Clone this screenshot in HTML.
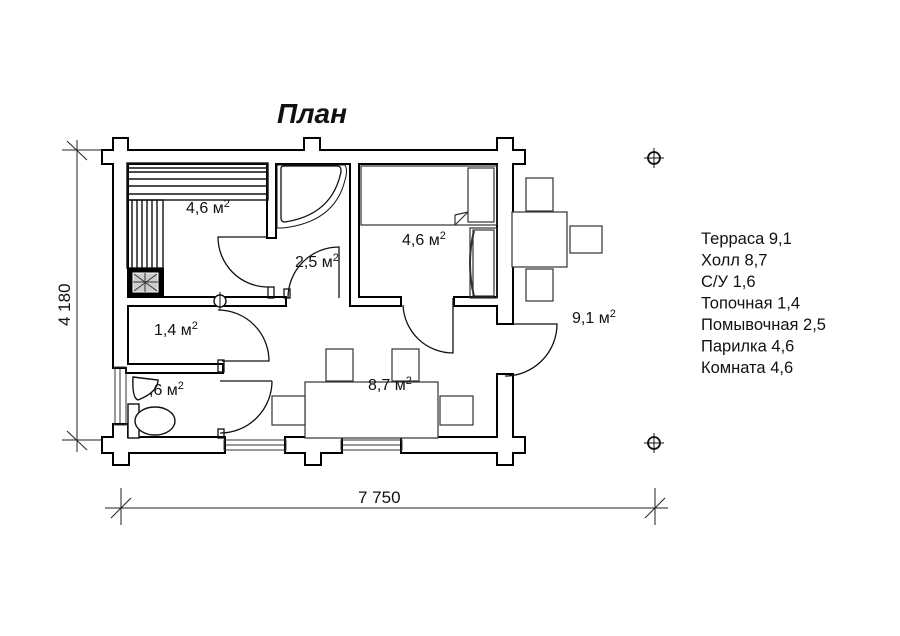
<!DOCTYPE html>
<html><head><meta charset="utf-8"><style>
html,body{margin:0;padding:0;background:#fff}
svg{display:block}
text{font-family:"Liberation Sans",sans-serif;fill:#111}
</style></head><body>
<svg width="900" height="636" viewBox="0 0 900 636" xmlns="http://www.w3.org/2000/svg">
<rect width="900" height="636" fill="#fff"/>
<text x="277" y="123" font-size="28" font-weight="bold" font-style="italic">План</text>

<g stroke="#222" stroke-width="1" fill="none">
<line x1="77" y1="140" x2="77" y2="452"/>
<line x1="62" y1="150" x2="120" y2="150"/>
<line x1="62" y1="440" x2="120" y2="440"/>
<line x1="67" y1="141" x2="87" y2="160"/>
<line x1="67" y1="431" x2="87" y2="450"/>
<line x1="105" y1="508" x2="668" y2="508"/>
<line x1="121" y1="488" x2="121" y2="525"/>
<line x1="655" y1="488" x2="655" y2="525"/>
<line x1="111" y1="518" x2="131" y2="498"/>
<line x1="645" y1="518" x2="665" y2="498"/>
</g>
<text x="0" y="0" font-size="17" transform="translate(70,326) rotate(-90)">4 180</text>
<text x="358" y="503" font-size="17">7 750</text>

<g stroke="#111" stroke-width="1.8" fill="none">
<circle cx="654" cy="158" r="6"/><line x1="644" y1="158" x2="664" y2="158" stroke-width="1"/><line x1="654" y1="148" x2="654" y2="168" stroke-width="1"/>
<circle cx="654" cy="443" r="6"/><line x1="644" y1="443" x2="664" y2="443" stroke-width="1"/><line x1="654" y1="433" x2="654" y2="453" stroke-width="1"/>
</g>

<g fill="#000">
<rect x="101" y="149" width="425" height="16"/>
<rect x="112" y="137" width="17" height="28"/>
<rect x="303" y="137" width="18" height="16"/>
<rect x="496" y="137" width="18" height="28"/>
<rect x="112" y="149" width="17" height="220"/>
<rect x="112" y="423" width="17" height="31"/>
<rect x="496" y="149" width="18" height="176"/>
<rect x="496" y="373" width="18" height="81"/>
<rect x="101" y="436" width="125" height="18"/>
<rect x="284" y="436" width="59" height="18"/>
<rect x="400" y="436" width="126" height="18"/>
<rect x="112" y="436" width="18" height="30"/>
<rect x="304" y="436" width="18" height="30"/>
<rect x="496" y="436" width="18" height="30"/>
<rect x="266" y="161" width="11" height="78"/>
<rect x="125" y="296" width="162" height="11"/>
<rect x="349" y="161" width="11" height="146"/>
<rect x="349" y="296" width="53" height="11"/>
<rect x="453" y="296" width="47" height="11"/>
<rect x="125" y="363" width="99" height="11"/>
</g>
<g fill="#fff">
<rect x="103" y="151" width="421" height="12"/>
<rect x="114" y="139" width="13" height="24"/>
<rect x="305" y="139" width="14" height="24"/>
<rect x="498" y="139" width="14" height="24"/>
<rect x="114" y="151" width="13" height="216"/>
<rect x="114" y="425" width="13" height="27"/>
<rect x="498" y="151" width="14" height="172"/>
<rect x="498" y="375" width="14" height="77"/>
<rect x="103" y="438" width="121" height="14"/>
<rect x="286" y="438" width="55" height="14"/>
<rect x="402" y="438" width="122" height="14"/>
<rect x="114" y="438" width="14" height="26"/>
<rect x="306" y="438" width="14" height="26"/>
<rect x="498" y="438" width="14" height="26"/>
<rect x="268" y="163" width="7" height="74"/>
<rect x="127" y="298" width="158" height="7"/>
<rect x="351" y="163" width="7" height="142"/>
<rect x="351" y="298" width="49" height="7"/>
<rect x="455" y="298" width="43" height="7"/>
<rect x="127" y="365" width="95" height="7"/>
</g>
<g stroke="#333" stroke-width="1" fill="none">
<rect x="224" y="440" width="62" height="10"/><line x1="226" y1="445" x2="284" y2="445"/>
<rect x="341" y="440" width="61" height="10"/><line x1="343" y1="445" x2="400" y2="445"/>
<rect x="115" y="367" width="11" height="58"/><line x1="120" y1="369" x2="120" y2="423"/>
</g>

<g stroke="#111" stroke-width="1.4" fill="none">
<rect x="127" y="163" width="141" height="37"/>
<line x1="127" y1="168" x2="268" y2="168"/><line x1="127" y1="172" x2="268" y2="172"/>
<line x1="127" y1="179" x2="268" y2="179"/><line x1="127" y1="186" x2="268" y2="186"/>
<line x1="127" y1="194" x2="268" y2="194"/>
<rect x="127" y="200" width="36" height="68"/>
<line x1="132" y1="200" x2="132" y2="268"/><line x1="137" y1="200" x2="137" y2="268"/>
<line x1="142" y1="200" x2="142" y2="268"/><line x1="147" y1="200" x2="147" y2="268"/>
<line x1="152" y1="200" x2="152" y2="268"/><line x1="157" y1="200" x2="157" y2="268"/>
</g>
<rect x="127" y="268" width="37" height="30" fill="#000"/>
<rect x="133" y="273" width="25" height="19" fill="#ccc" stroke="#fff" stroke-width="1"/>
<path d="M134 274 L157 291 M157 274 L134 291 M145 273 L145 292 M133 282 L158 282" stroke="#333" stroke-width="1"/>

<g stroke="#111" stroke-width="1.3" fill="none">
<path d="M268 237 L218 237 A50 50 0 0 0 268 287"/>
<rect x="268" y="287" width="6" height="11"/>
<path d="M339 298 L339 247 A51 51 0 0 0 288 298"/>
<rect x="284" y="289" width="6" height="9"/>
<path d="M218 310 A51 51 0 0 1 269 361 L222 361"/>
<rect x="218" y="360" width="6" height="12"/>
<path d="M272 381 A52 52 0 0 1 220 433"/>
<line x1="220" y1="381" x2="272" y2="381"/>
<rect x="218" y="429" width="6" height="9"/>
<path d="M453 298 L453 353 A50 50 0 0 1 403 305"/>
<path d="M512 324 L557 324 A52 52 0 0 1 505 376"/>
</g>
<circle cx="220" cy="301" r="6" fill="#fff" stroke="#111" stroke-width="1.4"/>
<line x1="220" y1="292" x2="220" y2="310" stroke="#111" stroke-width="1"/>

<path d="M281 168 Q281 166 285 166 L337 166 Q343 166 340 176 Q330 215 285 222 Q281 222 281 218 Z" fill="none" stroke="#111" stroke-width="1.3"/>
<path d="M277 165 L345 165 Q348 170 345 180 Q335 222 283 228 L277 228 Z" fill="none" stroke="#111" stroke-width="1"/>

<g stroke="#333" stroke-width="1.2" fill="none">
<rect x="361" y="166" width="136" height="59"/>
<rect x="468" y="168" width="26" height="54"/>
<path d="M455 225 L455 215 L468 212 M455 225 L468 212"/>
<rect x="470" y="228" width="27" height="70"/>
<rect x="473" y="230" width="21" height="66"/>
<path d="M474 231 Q466 263 474 296" stroke-width="2"/>
</g>

<g stroke="#333" stroke-width="1.2" fill="#fff">
<rect x="305" y="382" width="133" height="56"/>
<rect x="326" y="349" width="27" height="32"/>
<rect x="392" y="349" width="27" height="32"/>
<rect x="272" y="396" width="33" height="29"/>
<rect x="440" y="396" width="33" height="29"/>
<rect x="512" y="212" width="55" height="55"/>
<rect x="526" y="178" width="27" height="33"/>
<rect x="526" y="269" width="27" height="32"/>
<rect x="570" y="226" width="32" height="27"/>
</g>

<g stroke="#111" stroke-width="1.4" fill="#fff">
<rect x="128" y="404" width="11" height="34"/>
<ellipse cx="155" cy="421" rx="20" ry="14"/>
<path d="M133 377 L158 380 Q158 392 138 400 Q132 398 133 377 Z"/>
</g>

<g font-size="16">
<text x="186" y="213">4,6 м<tspan font-size="11" dy="-6">2</tspan></text>
<text x="295" y="267">2,5 м<tspan font-size="11" dy="-6">2</tspan></text>
<text x="402" y="245">4,6 м<tspan font-size="11" dy="-6">2</tspan></text>
<text x="154" y="335">1,4 м<tspan font-size="11" dy="-6">2</tspan></text>
<text x="149" y="395">,6 м<tspan font-size="11" dy="-6">2</tspan></text>
<text x="368" y="390">8,7 м<tspan font-size="11" dy="-6">2</tspan></text>
<text x="572" y="323">9,1 м<tspan font-size="11" dy="-6">2</tspan></text>
</g>
<g font-size="16.5">
<text x="701" y="244">Терраса 9,1</text>
<text x="701" y="265.5">Холл 8,7</text>
<text x="701" y="287">С/У 1,6</text>
<text x="701" y="308.5">Топочная 1,4</text>
<text x="701" y="330">Помывочная 2,5</text>
<text x="701" y="351.5">Парилка 4,6</text>
<text x="701" y="373">Комната 4,6</text>
</g>
</svg>
</body></html>
